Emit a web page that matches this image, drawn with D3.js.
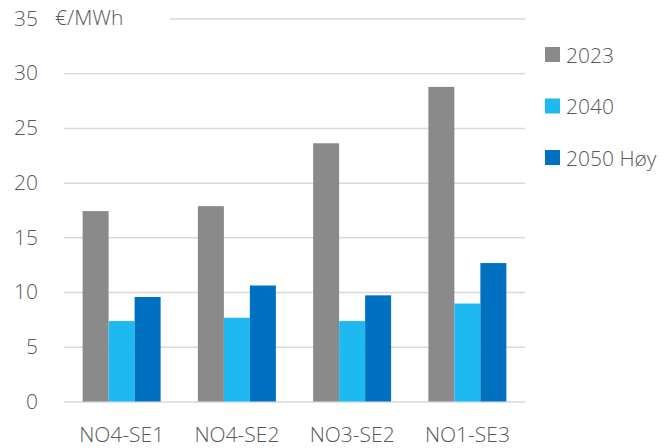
<!DOCTYPE html>
<html>
<head>
<meta charset="utf-8">
<script src="https://cdn.jsdelivr.net/npm/d3@7"></script>
<style>
  html, body { margin: 0; padding: 0; background: #fff; }
  svg { display: block; }
  text { font-family: "Open Sans", "Noto Sans", sans-serif; fill: #595959; }
</style>
</head>
<body>
<svg id="chart" width="666" height="448"></svg>
<script>
// Transmission price differences per corridor
const categories = ["NO4-SE1", "NO4-SE2", "NO3-SE2", "NO1-SE3"];
const seriesNames = ["2023", "2040", "2050 Høy"];
const values2023 = [17.4, 17.85, 23.6, 28.75];
const values2040 = [7.35, 7.65, 7.35, 8.95];
const values2050 = [9.55, 10.6, 9.7, 12.65];
const yTicks = [0, 5, 10, 15, 20, 25, 30, 35];
const unitLabel = "€/MWh";
const colors = ["#8a8a8a", "#1db9f0", "#0070c0"];

const seriesValues = [values2023, values2040, values2050];

const svg = d3.select("#chart");
const plotLeft = 64, plotRight = 525, plotTop = 18.5, plotBottom = 401.5;

const y = d3.scaleLinear().domain([0, 35]).range([plotBottom, plotTop]);
const x0 = d3.scaleBand().domain(categories).range([plotLeft, plotRight])
  .paddingInner(0.3232).paddingOuter(0.1616);
const x1 = d3.scaleBand().domain(seriesNames).range([0, x0.bandwidth()]);
const color = d3.scaleOrdinal().domain(seriesNames).range(colors);

// gridlines + y tick labels
const yAxis = svg.append("g")
  .attr("transform", `translate(${plotLeft},0)`)
  .call(d3.axisLeft(y).tickValues(yTicks).tickSizeInner(-(plotRight - plotLeft)).tickSizeOuter(0).tickPadding(26));
yAxis.select(".domain").remove();
yAxis.selectAll(".tick line")
  .attr("stroke", "#d9d9d9")
  .attr("stroke-width", 1.5)
  .attr("x1", d => d === 35 ? 106 : 0);
yAxis.selectAll(".tick text")
  .style("font-size", "21px")
  .style("font-weight", 300)
  .attr("fill", "#595959");

// unit label next to the top tick
svg.append("text")
  .attr("x", 55)
  .attr("y", y(35))
  .attr("dy", "0.32em")
  .style("font-size", "21px")
  .style("font-weight", 300)
  .text(unitLabel);

// bars
const groups = svg.append("g").selectAll("g")
  .data(categories)
  .join("g")
  .attr("transform", d => `translate(${x0(d)},0)`);

groups.selectAll("rect")
  .data((d, i) => seriesNames.map((s, j) => ({ s, v: seriesValues[j][i] })))
  .join("rect")
  .attr("x", d => x1(d.s))
  .attr("y", d => y(d.v))
  .attr("width", x1.bandwidth())
  .attr("height", d => y(0) - y(d.v))
  .attr("fill", d => color(d.s));

// category axis
const xAxis = svg.append("g")
  .attr("transform", `translate(0,${plotBottom})`)
  .call(d3.axisBottom(x0).tickSize(0).tickPadding(26));
xAxis.select(".domain").remove();
xAxis.selectAll(".tick text")
  .style("font-size", "21px")
  .style("font-weight", 300)
  .attr("fill", "#595959");

// legend
const legend = svg.append("g").selectAll("g")
  .data(seriesNames)
  .join("g")
  .attr("transform", (d, i) => `translate(545,${47 + i * 51.5})`);
legend.append("rect")
  .attr("width", 15).attr("height", 15)
  .attr("fill", d => color(d));
legend.append("text")
  .attr("x", 21)
  .attr("y", 15.5)
  .style("font-size", "21px")
  .style("font-weight", 300)
  .text(d => d);
</script>
</body>
</html>
